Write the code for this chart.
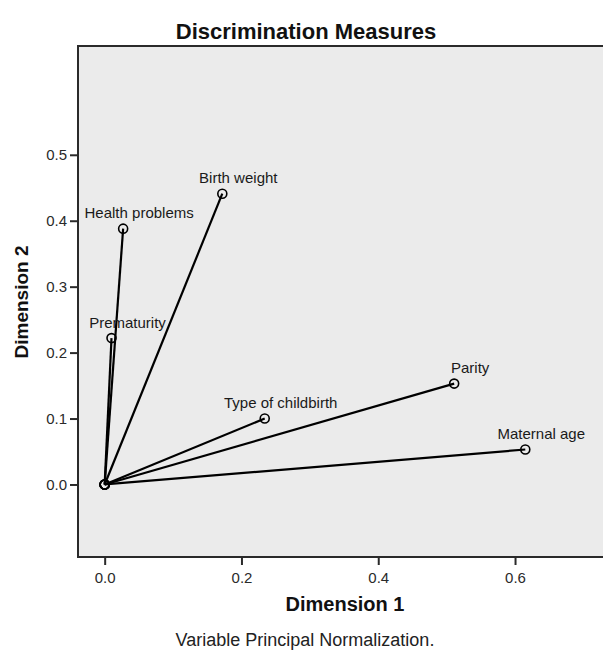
<!DOCTYPE html>
<html>
<head>
<meta charset="utf-8">
<script src="https://cdn.jsdelivr.net/npm/d3@7"></script>
<style>
  body { margin: 0; background: #fff; }
  text { font-family: Arial, "Liberation Sans", sans-serif; }
</style>
</head>
<body>
<div id="chart"></div>
<script>
WIDTH = 603;
HEIGHT = 657;

// Discrimination measures
var variables = ["Birth weight", "Health problems", "Prematurity", "Type of childbirth", "Parity", "Maternal age"];
var dim1 = [0.172, 0.027, 0.010, 0.234, 0.511, 0.615];
var dim2 = [0.441, 0.388, 0.222, 0.100, 0.153, 0.053];

var xTicks = [0.0, 0.2, 0.4, 0.6];
var yTicks = [0.0, 0.1, 0.2, 0.3, 0.4, 0.5];

var frame = { left: 78, top: 46, right: 606, bottom: 557 };

var svg = d3
  .select("#chart")
  .append("svg")
  .attr("width", WIDTH)
  .attr("height", HEIGHT);

const xScale = d3
  .scaleLinear()
  .domain([-0.039, 0.733])
  .range([frame.left, frame.right]);
const yScale = d3
  .scaleLinear()
  .domain([-0.110, 0.665])
  .range([frame.bottom, frame.top]);

// plot area
svg
  .append("rect")
  .attr("x", frame.left)
  .attr("y", frame.top)
  .attr("width", frame.right - frame.left)
  .attr("height", frame.bottom - frame.top)
  .style("fill", "#ebebeb")
  .style("stroke", "#2a2a2a")
  .style("stroke-width", 2);

// axes
var xAxis = d3
  .axisBottom(xScale)
  .tickValues(xTicks)
  .tickFormat(d3.format(".1f"))
  .tickSize(8)
  .tickPadding(7);
var yAxis = d3
  .axisLeft(yScale)
  .tickValues(yTicks)
  .tickFormat(d3.format(".1f"))
  .tickSize(8)
  .tickPadding(3);

var gx = svg
  .append("g")
  .attr("transform", "translate(0," + frame.bottom + ")")
  .call(xAxis);
var gy = svg
  .append("g")
  .attr("transform", "translate(" + frame.left + ",0)")
  .call(yAxis);

[gx, gy].forEach(function(g) {
  g.select(".domain").remove();
  g.selectAll(".tick line").attr("stroke", "#2a2a2a").attr("stroke-width", 2);
  g.selectAll(".tick text")
    .attr("fill", "#2a2a2a")
    .style("font-size", "15px")
    .style("font-family", "Arial, 'Liberation Sans', sans-serif");
});

// vectors from origin
var data = variables.map(function(v, i) {
  return { name: v, x: dim1[i], y: dim2[i] };
});

var vec_g = svg.append("g");

vec_g
  .selectAll("line")
  .data(data)
  .enter()
  .append("line")
  .attr("x1", xScale(0))
  .attr("y1", yScale(0))
  .attr("x2", d => xScale(d.x))
  .attr("y2", d => yScale(d.y))
  .attr("stroke", "#000")
  .attr("stroke-width", 2.2);

vec_g
  .selectAll("circle.origin")
  .data(data)
  .enter()
  .append("circle")
  .attr("class", "origin")
  .attr("cx", xScale(0))
  .attr("cy", yScale(0))
  .attr("r", 4.5)
  .style("fill", "none")
  .style("stroke", "#000")
  .style("stroke-width", 1.6);

vec_g
  .selectAll("circle.end")
  .data(data)
  .enter()
  .append("circle")
  .attr("class", "end")
  .attr("cx", d => xScale(d.x))
  .attr("cy", d => yScale(d.y))
  .attr("r", 4.5)
  .style("fill", "none")
  .style("stroke", "#000")
  .style("stroke-width", 1.6);

vec_g
  .selectAll("text")
  .data(data)
  .enter()
  .append("text")
  .attr("x", d => xScale(d.x) + 16)
  .attr("y", d => yScale(d.y) - 10.5)
  .attr("text-anchor", "middle")
  .style("font-size", "15px")
  .style("fill", "#1a1a1a")
  .text(d => d.name);

// titles
svg
  .append("text")
  .attr("x", 306)
  .attr("y", 39)
  .attr("text-anchor", "middle")
  .style("font-size", "22px")
  .style("font-weight", "bold")
  .style("fill", "#111")
  .text("Discrimination Measures");

svg
  .append("text")
  .attr("x", 345)
  .attr("y", 611)
  .attr("text-anchor", "middle")
  .style("font-size", "20px")
  .style("font-weight", "bold")
  .style("fill", "#111")
  .text("Dimension 1");

svg
  .append("text")
  .attr("transform", "translate(28,302) rotate(-90)")
  .attr("text-anchor", "middle")
  .style("font-size", "19px")
  .style("font-weight", "bold")
  .style("fill", "#111")
  .text("Dimension 2");

svg
  .append("text")
  .attr("x", 305)
  .attr("y", 646)
  .attr("text-anchor", "middle")
  .style("font-size", "18px")
  .style("fill", "#222")
  .text("Variable Principal Normalization.");
</script>
</body>
</html>
